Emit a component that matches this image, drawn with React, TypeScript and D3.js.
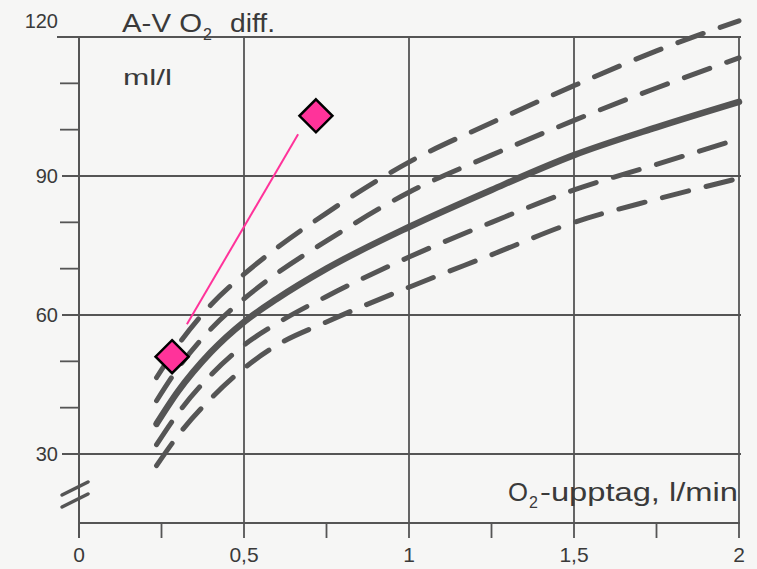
import React from "react";
import * as d3 from "d3";

// O2 uptake (l/min) sample points along the curves
const uptake = [0.235, 0.3, 0.4, 0.5, 0.6, 0.75, 1, 1.25, 1.5, 1.75, 2];
// A-V O2 difference (ml/l)
const upper2 = [46.5, 53.5, 62.2, 68.8, 74.5, 82, 93, 101.5, 109.5, 117, 123.5];
const upper1 = [41.5, 48.5, 57, 63.5, 69, 76, 86.5, 94.5, 102, 109, 115.5];
const median = [36.5, 43.5, 52, 58.5, 63.5, 70, 79, 87, 94.5, 100.5, 106];
const lower1 = [32, 38.8, 47.1, 53.5, 58.2, 64, 72.5, 80, 87, 92.5, 98];
const lower2 = [27.5, 34, 42, 48.5, 53.5, 58.5, 66, 73, 80, 85, 89.5];

// patient measurements (pink)
const patientX = [0.282, 0.718];
const patientY = [51, 103];
const connectorX = [0.327, 0.664];
const connectorY = [58, 99];

const xTicksMajor = [0, 0.5, 1, 1.5, 2];
const xTickLabels = ["0", "0,5", "1", "1,5", "2"];
const xTicksAll = [0, 0.25, 0.5, 0.75, 1, 1.25, 1.5, 1.75, 2];
const yTicksMajor = [30, 60, 90, 120];
const yTickLabels = ["30", "60", "90", "120"];
const yTicksAll = [30, 40, 50, 60, 70, 80, 90, 100, 110, 120];

const W = 757;
const H = 569;
const INK = "#555555";
const TXT = "#3a3a3a";
const PINK = "#ff339a";
const FONT = "'Liberation Sans', Arial, Helvetica, sans-serif";

export default function App() {
  const x = d3.scaleLinear().domain([0, 2]).range([79, 739]);
  const y = d3.scaleLinear().domain([30, 120]).range([454, 37]);
  const axisY = 523;

  const line = d3
    .line<number>()
    .x((_, i) => x(uptake[i]))
    .y((d) => y(d))
    .curve(d3.curveMonotoneX);

  const dashed = [upper2, upper1, lower1, lower2];

  const diamond = (cx: number, cy: number, r: number) =>
    `M${cx},${cy - r}L${cx + r},${cy}L${cx},${cy + r}L${cx - r},${cy}Z`;

  return (
    <svg
      width={W}
      height={H}
      viewBox={`0 0 ${W} ${H}`}
      style={{ position: "absolute", left: 0, top: 0, display: "block" }}
      fontFamily={FONT}
    >
      <rect x={0} y={0} width={W} height={H} fill="#f6f6f5" />

      {/* horizontal grid lines */}
      {yTicksMajor.map((v) => (
        <line
          key={"hg" + v}
          x1={v === 120 ? 57 : 62}
          x2={x(2) + 2}
          y1={y(v)}
          y2={y(v)}
          stroke={INK}
          strokeWidth={1.8}
        />
      ))}
      {/* minor left ticks */}
      {yTicksAll
        .filter((v) => !yTicksMajor.includes(v))
        .map((v) => (
          <line key={"yt" + v} x1={60} x2={x(0)} y1={y(v)} y2={y(v)} stroke={INK} strokeWidth={1.8} />
        ))}
      {/* vertical grid lines */}
      {xTicksMajor
        .filter((v) => v > 0)
        .map((v) => (
          <line key={"vg" + v} x1={x(v)} x2={x(v)} y1={y(120)} y2={axisY} stroke={INK} strokeWidth={1.8} />
        ))}
      {/* left axis */}
      <line x1={x(0)} x2={x(0)} y1={y(120) - 1} y2={538} stroke={INK} strokeWidth={2} />
      {/* bottom axis */}
      <line x1={x(0)} x2={x(2) + 1} y1={axisY} y2={axisY} stroke={INK} strokeWidth={2} />
      {xTicksAll.map((v) => (
        <line key={"xt" + v} x1={x(v)} x2={x(v)} y1={axisY} y2={axisY + 15} stroke={INK} strokeWidth={1.8} />
      ))}
      {/* axis break marks */}
      <line x1={62} y1={495} x2={88} y2={482} stroke={INK} strokeWidth={3.5} strokeLinecap="round" />
      <line x1={62} y1={507} x2={88} y2={494} stroke={INK} strokeWidth={3.5} strokeLinecap="round" />

      {/* tick labels */}
      {yTicksMajor.map((v, i) => (
        <text
          key={"yl" + v}
          x={58}
          y={v === 120 ? 28 : y(v) + 7}
          textAnchor="end"
          fontSize={20}
          fill={TXT}
        >
          {yTickLabels[i]}
        </text>
      ))}
      {xTicksMajor.map((v, i) => (
        <text key={"xl" + v} x={x(v)} y={562} textAnchor="middle" fontSize={21} fill={TXT}>
          {xTickLabels[i]}
        </text>
      ))}

      {/* axis titles */}
      <text x={122} y={32} fontSize={25} fill={TXT} textLength={80} lengthAdjust="spacingAndGlyphs">
        A-V O
      </text>
      <text x={203} y={40} fontSize={16} fill={TXT}>
        2
      </text>
      <text x={230} y={32} fontSize={25} fill={TXT} textLength={45} lengthAdjust="spacingAndGlyphs">
        diff.
      </text>
      <text x={123} y={85} fontSize={22} fill={TXT} textLength={49} lengthAdjust="spacingAndGlyphs">
        ml/l
      </text>
      <text x={508} y={501} fontSize={25} fill={TXT} textLength={20} lengthAdjust="spacingAndGlyphs">
        O
      </text>
      <text x={529} y={508} fontSize={16} fill={TXT}>
        2
      </text>
      <text x={540} y={501} fontSize={25} fill={TXT} textLength={198} lengthAdjust="spacingAndGlyphs">
        -upptag, l/min
      </text>

      {/* curves */}
      {dashed.map((s, i) => (
        <path
          key={"d" + i}
          d={line(s) || ""}
          fill="none"
          stroke={INK}
          strokeWidth={5}
          strokeDasharray="27 18"
          strokeLinecap="round"
        />
      ))}
      <path d={line(median) || ""} fill="none" stroke={INK} strokeWidth={6.5} strokeLinecap="round" />

      {/* patient */}
      <line
        x1={x(connectorX[0])}
        y1={y(connectorY[0])}
        x2={x(connectorX[1])}
        y2={y(connectorY[1])}
        stroke={PINK}
        strokeWidth={2}
      />
      {patientX.map((px, i) => (
        <path
          key={"p" + i}
          d={diamond(x(px), y(patientY[i]), 16.5)}
          fill={PINK}
          stroke="#000"
          strokeWidth={2.5}
        />
      ))}
    </svg>
  );
}
